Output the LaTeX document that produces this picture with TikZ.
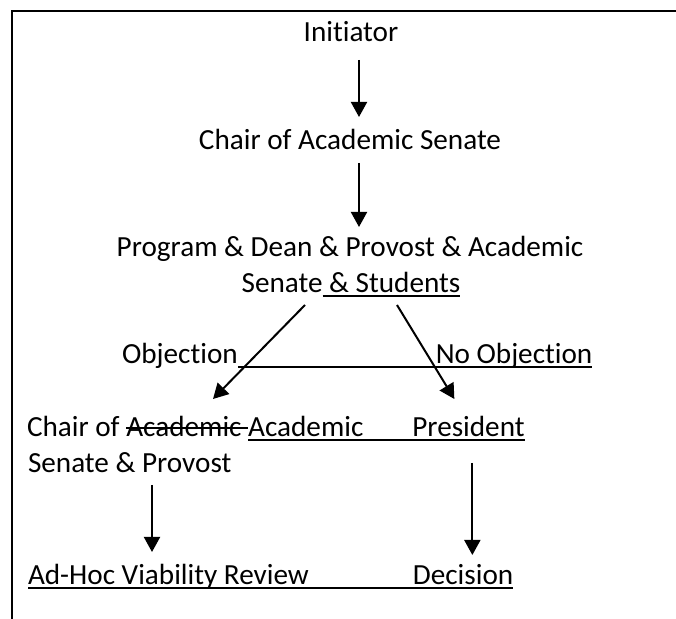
\documentclass[tikz,border=0pt]{standalone}
\usepackage{fontspec}
\setmainfont{Carlito}[Ligatures=NoCommon]
\usetikzlibrary{arrows.meta}
% underline and strike-through, rule laid under/through the box of the text
\newcommand{\ulined}[1]{\setbox0\hbox{#1}\rlap{\rule[-2pt]{\wd0}{1pt}}\box0}
\newcommand{\struck}[1]{\setbox0\hbox{#1}\rlap{\rule[4pt]{\wd0}{1pt}}\box0}
\begin{document}
\begin{tikzpicture}[x=0.5pt, y=-0.5pt, line width=1pt,
    every node/.style={inner sep=0pt, outer sep=0pt, anchor=base west, font=\fontsize{14.6pt}{18pt}\selectfont},
    flow/.style={-{Triangle[length=7.5pt, width=8pt]}}]
  \useasboundingbox (0,0) rectangle (676,619);
  % open frame, only the left and top edges
  \draw (12,619) -- (12,11) -- (676,11);
  % the steps, one text line per node
  \node[anchor=base] (init) at (351,42) {Initiator};
  \node[anchor=base] (chair) at (350,150) {Chair of Academic Senate};
  \node[anchor=base] (group) at (350,257) {Program \& Dean \& Provost \& Academic};
  \node[anchor=base] (students) at (351,293) {Senate\ulined{ \& Students}};
  \node (obj) at (122,364) {Objection};
  \node (noobj) at (obj.base east) {\ulined{\hspace{99pt}No Objection}};
  \node (chairof) at (27,437) {Chair of \struck{Academic }\ulined{Academic\hspace{24.5pt}}};
  \node (pres) at (chairof.base east) {\ulined{President}};
  \node (provost) at (28,473) {Senate \& Provost};
  \node (adhoc) at (28,585) {\ulined{Ad-Hoc Viability Review\hspace{52pt}}};
  \node (decision) at (adhoc.base east) {\ulined{Decision}};
  % arrows
  \draw[flow] ([shift={(8,18)}]init.base) -- ([shift={(9,-33)}]chair.base);
  \draw[flow] ([shift={(9,13)}]chair.base) -- ([shift={(9,-30)}]group.base);
  \draw[flow] ([shift={(-46,12)}]students.base) -- ([shift={(186,-38)}]chairof.base west);
  \draw[flow] ([shift={(46,12)}]students.base) -- ([shift={(42,-38)}]pres.base west);
  \draw[flow] ([shift={(124,12)}]provost.base west) -- ([shift={(124,-33)}]adhoc.base west);
  \draw[flow] ([shift={(60,26)}]pres.base west) coordinate (d0) -- ([yshift=15pt]decision.base -| d0);
\end{tikzpicture}
\end{document}
